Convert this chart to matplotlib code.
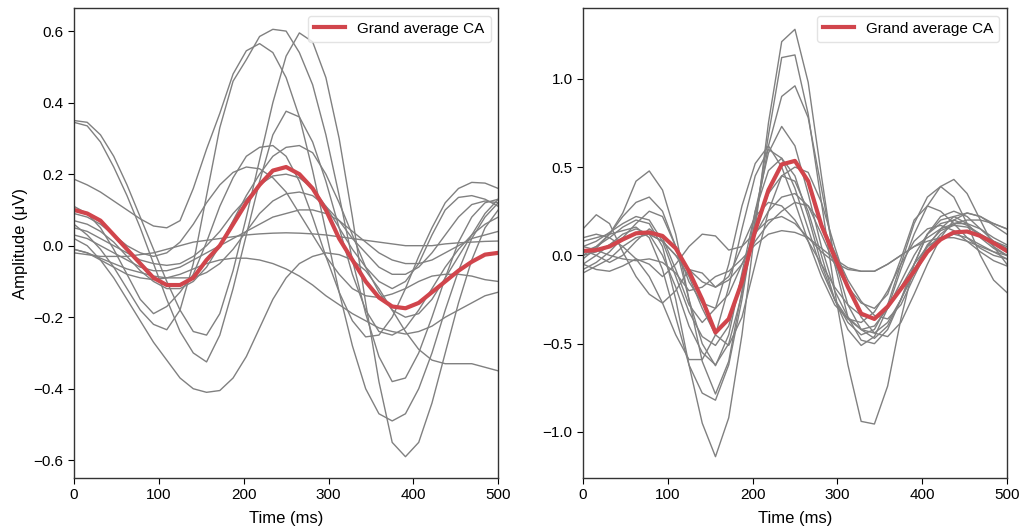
import numpy as np
import matplotlib
matplotlib.use("Agg")
import matplotlib.pyplot as plt

plt.rcParams['font.family'] = ['Liberation Sans', 'DejaVu Sans']

# time axis (ms), 64 Hz sampling over 0-500 ms
time_ms = [i * 15.625 for i in range(33)]

# ---------------- left panel: single subjects ----------------
left_1 = [0.35, 0.345, 0.31, 0.25, 0.17, 0.08, -0.01, -0.10, -0.18, -0.24, -0.25, -0.19, -0.07, 0.08, 0.24, 0.40, 0.53, 0.595, 0.57, 0.47, 0.30, 0.08, -0.16, -0.38, -0.55, -0.59, -0.55, -0.44, -0.30, -0.16, -0.04, 0.05, 0.10]
left_2 = [0.345, 0.335, 0.29, 0.22, 0.14, 0.05, -0.05, -0.15, -0.24, -0.30, -0.325, -0.25, -0.12, 0.03, 0.18, 0.31, 0.376, 0.36, 0.29, 0.18, 0.05, -0.08, -0.18, -0.24, -0.25, -0.23, -0.18, -0.12, -0.06, -0.01, 0.03, 0.06, 0.08]
left_3 = [0.186, 0.17, 0.15, 0.125, 0.10, 0.075, 0.055, 0.05, 0.07, 0.16, 0.27, 0.37, 0.48, 0.545, 0.565, 0.54, 0.47, 0.36, 0.21, 0.04, -0.13, -0.28, -0.40, -0.47, -0.49, -0.47, -0.40, -0.30, -0.18, -0.07, 0.02, 0.08, 0.12]
left_4 = [0.06, 0.03, -0.01, -0.06, -0.12, -0.18, -0.22, -0.235, -0.18, -0.05, 0.14, 0.33, 0.46, 0.52, 0.585, 0.605, 0.60, 0.54, 0.45, 0.31, 0.14, -0.04, -0.19, -0.31, -0.38, -0.37, -0.30, -0.20, -0.09, 0.01, 0.08, 0.12, 0.13]
left_5 = [0.02, 0.0, -0.04, -0.09, -0.15, -0.21, -0.27, -0.32, -0.37, -0.40, -0.41, -0.405, -0.37, -0.31, -0.23, -0.15, -0.09, -0.05, -0.03, -0.02, -0.025, -0.04, -0.07, -0.12, -0.18, -0.24, -0.29, -0.32, -0.33, -0.33, -0.33, -0.34, -0.35]
left_6 = [-0.01, -0.02, -0.04, -0.06, -0.08, -0.09, -0.095, -0.09, -0.08, -0.065, -0.05, -0.04, -0.035, -0.035, -0.04, -0.05, -0.065, -0.085, -0.11, -0.14, -0.165, -0.19, -0.21, -0.23, -0.24, -0.247, -0.24, -0.225, -0.20, -0.18, -0.16, -0.14, -0.13]
left_7 = [-0.02, -0.025, -0.03, -0.03, -0.03, -0.025, -0.02, -0.01, 0.0, 0.01, 0.015, 0.02, 0.025, 0.03, 0.033, 0.035, 0.036, 0.035, 0.033, 0.03, 0.025, 0.02, 0.015, 0.01, 0.005, 0.0, 0.0, 0.0, 0.005, 0.008, 0.01, 0.012, 0.013]
left_8 = [0.11, 0.09, 0.05, -0.01, -0.08, -0.15, -0.19, -0.17, -0.13, -0.08, 0.01, 0.11, 0.19, 0.25, 0.275, 0.28, 0.25, 0.18, 0.08, -0.03, -0.13, -0.21, -0.255, -0.25, -0.20, -0.12, -0.03, 0.05, 0.12, 0.16, 0.177, 0.175, 0.16]
left_9 = [0.07, 0.06, 0.04, 0.01, -0.03, -0.07, -0.10, -0.12, -0.12, -0.10, -0.06, 0.0, 0.07, 0.14, 0.20, 0.25, 0.275, 0.28, 0.26, 0.20, 0.12, 0.03, -0.06, -0.13, -0.18, -0.20, -0.19, -0.15, -0.09, -0.03, 0.03, 0.09, 0.13]
left_10 = [0.05, 0.04, 0.02, 0.0, -0.02, -0.04, -0.05, -0.055, -0.05, -0.03, 0.0, 0.04, 0.09, 0.13, 0.17, 0.195, 0.20, 0.19, 0.16, 0.11, 0.05, -0.01, -0.06, -0.10, -0.12, -0.10, -0.05, 0.03, 0.10, 0.135, 0.14, 0.13, 0.11]
left_11 = [-0.01, -0.02, -0.035, -0.05, -0.065, -0.075, -0.085, -0.09, -0.09, -0.09, -0.075, -0.05, -0.01, 0.04, 0.09, 0.125, 0.145, 0.15, 0.14, 0.11, 0.07, 0.02, -0.02, -0.06, -0.08, -0.08, -0.06, -0.02, 0.03, 0.08, 0.115, 0.125, 0.12]
left_12 = [0.09, 0.08, 0.06, 0.03, 0.0, -0.02, -0.03, -0.02, 0.01, 0.06, 0.12, 0.17, 0.205, 0.22, 0.215, 0.19, 0.15, 0.09, 0.03, -0.03, -0.08, -0.12, -0.14, -0.145, -0.135, -0.12, -0.10, -0.085, -0.08, -0.08, -0.085, -0.095, -0.10]
left_13 = [0.03, 0.02, 0.0, -0.02, -0.04, -0.06, -0.07, -0.07, -0.06, -0.04, -0.02, 0.0, 0.02, 0.04, 0.06, 0.08, 0.09, 0.10, 0.10, 0.09, 0.07, 0.04, 0.01, -0.02, -0.04, -0.05, -0.05, -0.04, -0.02, 0.0, 0.02, 0.03, 0.04]
left_subjects = [left_1, left_2, left_3, left_4, left_5, left_6, left_7,
                 left_8, left_9, left_10, left_11, left_12, left_13]
left_grand = [0.10, 0.09, 0.07, 0.03, -0.01, -0.05, -0.09, -0.11, -0.11, -0.09, -0.04, 0.0, 0.06, 0.12, 0.17, 0.21, 0.22, 0.20, 0.16, 0.10, 0.02, -0.04, -0.10, -0.145, -0.17, -0.175, -0.16, -0.13, -0.10, -0.07, -0.045, -0.025, -0.02]

# ---------------- right panel: single subjects ----------------
right_1 = [0.02, 0.05, 0.10, 0.16, 0.20, 0.18, 0.05, -0.25, -0.62, -0.95, -1.14, -0.92, -0.45, 0.15, 0.75, 1.21, 1.28, 0.98, 0.45, -0.05, -0.35, -0.48, -0.50, -0.42, -0.25, -0.05, 0.12, 0.22, 0.25, 0.22, 0.15, 0.08, 0.04]
right_2 = [-0.05, 0.0, 0.06, 0.12, 0.15, 0.12, 0.0, -0.18, -0.40, -0.55, -0.62, -0.50, -0.22, 0.20, 0.68, 1.12, 1.135, 0.80, 0.30, -0.20, -0.62, -0.94, -0.955, -0.74, -0.36, -0.05, 0.12, 0.20, 0.22, 0.18, 0.10, 0.04, 0.0]
right_3 = [0.08, 0.10, 0.12, 0.14, 0.16, 0.10, -0.08, -0.35, -0.62, -0.78, -0.82, -0.62, -0.25, 0.20, 0.62, 0.90, 0.96, 0.78, 0.38, -0.02, -0.28, -0.42, -0.47, -0.40, -0.25, -0.08, 0.06, 0.14, 0.17, 0.16, 0.12, 0.08, 0.05]
right_4 = [-0.02, 0.04, 0.12, 0.24, 0.42, 0.478, 0.37, 0.12, -0.25, -0.60, -0.785, -0.60, -0.20, 0.25, 0.58, 0.73, 0.62, 0.35, 0.05, -0.20, -0.35, -0.42, -0.40, -0.30, -0.15, 0.0, 0.12, 0.18, 0.20, 0.17, 0.12, 0.05, 0.0]
right_5 = [0.10, 0.12, 0.10, 0.05, -0.02, -0.12, -0.27, -0.45, -0.59, -0.59, -0.45, -0.18, 0.15, 0.45, 0.60, 0.55, 0.38, 0.15, -0.08, -0.25, -0.36, -0.42, -0.44, -0.38, -0.25, -0.10, 0.05, 0.15, 0.22, 0.24, 0.22, 0.18, 0.15]
right_6 = [-0.05, -0.08, -0.09, -0.06, -0.02, -0.05, -0.12, -0.05, 0.05, 0.12, 0.11, 0.03, 0.05, 0.13, 0.20, 0.22, 0.18, 0.10, 0.02, -0.04, -0.08, -0.09, -0.09, -0.05, 0.0, 0.05, 0.08, 0.10, 0.10, 0.08, 0.05, 0.02, 0.0]
right_7 = [0.0, 0.02, 0.06, 0.10, 0.12, 0.12, 0.08, 0.0, -0.12, -0.30, -0.45, -0.51, -0.35, -0.05, 0.25, 0.45, 0.50, 0.47, 0.30, 0.05, -0.18, -0.35, -0.44, -0.46, -0.38, -0.22, -0.05, 0.10, 0.20, 0.24, 0.22, 0.17, 0.12]
right_8 = [0.05, 0.08, 0.13, 0.18, 0.22, 0.20, 0.08, -0.12, -0.32, -0.46, -0.51, -0.40, -0.12, 0.15, 0.35, 0.45, 0.42, 0.25, 0.0, -0.25, -0.42, -0.51, -0.46, -0.30, -0.08, 0.12, 0.28, 0.39, 0.43, 0.35, 0.20, 0.05, -0.05]
right_9 = [-0.08, -0.04, 0.02, 0.10, 0.18, 0.25, 0.22, 0.05, -0.25, -0.50, -0.625, -0.45, -0.10, 0.25, 0.48, 0.55, 0.45, 0.22, -0.05, -0.25, -0.38, -0.45, -0.42, -0.28, -0.05, 0.18, 0.33, 0.39, 0.33, 0.18, 0.0, -0.14, -0.21]
right_10 = [0.0, 0.05, 0.12, 0.22, 0.30, 0.33, 0.25, 0.05, -0.15, -0.27, -0.30, -0.22, -0.05, 0.12, 0.25, 0.33, 0.35, 0.28, 0.12, -0.05, -0.18, -0.27, -0.30, -0.22, -0.02, 0.20, 0.28, 0.25, 0.18, 0.10, 0.04, 0.0, -0.02]
right_11 = [0.15, 0.23, 0.18, 0.02, -0.12, -0.22, -0.27, -0.20, -0.08, -0.10, -0.18, -0.12, 0.05, 0.22, 0.30, 0.28, 0.20, 0.08, -0.05, -0.18, -0.28, -0.34, -0.36, -0.30, -0.18, -0.05, 0.05, 0.10, 0.12, 0.10, 0.06, 0.02, -0.02]
right_12 = [-0.10, -0.06, -0.02, 0.05, 0.10, 0.12, 0.08, 0.0, -0.08, -0.15, -0.18, -0.14, -0.05, 0.08, 0.18, 0.25, 0.30, 0.28, 0.18, 0.02, -0.14, -0.26, -0.34, -0.36, -0.28, -0.12, 0.03, 0.12, 0.18, 0.20, 0.20, 0.18, 0.15]
right_13 = [0.05, 0.03, 0.0, -0.02, -0.03, -0.02, -0.04, -0.10, -0.20, -0.18, -0.12, -0.09, -0.02, 0.06, 0.12, 0.14, 0.13, 0.10, 0.04, -0.02, -0.07, -0.09, -0.09, -0.05, 0.0, 0.05, 0.10, 0.15, 0.18, 0.18, 0.15, 0.10, 0.06]
right_14 = [0.03, 0.0, -0.04, 0.0, 0.08, 0.15, 0.10, -0.08, -0.28, -0.38, -0.30, -0.05, 0.28, 0.52, 0.62, 0.50, 0.30, 0.08, -0.12, -0.28, -0.36, -0.38, -0.32, -0.20, -0.05, 0.08, 0.15, 0.17, 0.14, 0.08, 0.02, -0.03, -0.06]
right_subjects = [right_1, right_2, right_3, right_4, right_5, right_6, right_7,
                  right_8, right_9, right_10, right_11, right_12, right_13, right_14]
right_grand = [0.025, 0.03, 0.05, 0.09, 0.125, 0.13, 0.11, 0.04, -0.09, -0.25, -0.437, -0.36, -0.15, 0.14, 0.37, 0.515, 0.535, 0.42, 0.17, -0.01, -0.18, -0.33, -0.36, -0.29, -0.19, -0.09, 0.02, 0.09, 0.13, 0.135, 0.11, 0.07, 0.025]

legend_label = "Grand average CA"
x_ticks = [0, 100, 200, 300, 400, 500]

gray = "#808080"
red = "#d1454c"

fig = plt.figure(figsize=(10.2, 5.3), dpi=100)
ax1 = fig.add_axes([0.0725, 0.098, 0.416, 0.887])
ax2 = fig.add_axes([0.5716, 0.098, 0.4155, 0.887])

for ax, subjects, grand in ((ax1, left_subjects, left_grand),
                            (ax2, right_subjects, right_grand)):
    for s in subjects:
        ax.plot(time_ms, s, color=gray, lw=1.0)
    ax.plot(time_ms, grand, color=red, lw=3.0, label=legend_label)
    ax.set_xlim(0, 500)
    ax.set_xticks(x_ticks)
    ax.set_xlabel("Time (ms)", fontsize=12, labelpad=6)
    ax.tick_params(labelsize=11, direction='out', length=4)
    for sp in ax.spines.values():
        sp.set_color('#333333')
        sp.set_linewidth(1.0)
    leg = ax.legend(loc='upper right', fontsize=11, frameon=True,
                    fancybox=True, framealpha=0.8, edgecolor='#dddddd',
                    handlelength=2.0)

ax1.set_ylabel("Amplitude (μV)", fontsize=12)
ax1.set_yticks([-0.6, -0.4, -0.2, 0.0, 0.2, 0.4, 0.6])
ax2.set_yticks([-1.0, -0.5, 0.0, 0.5, 1.0])

fig.savefig("out.png", dpi=100)
